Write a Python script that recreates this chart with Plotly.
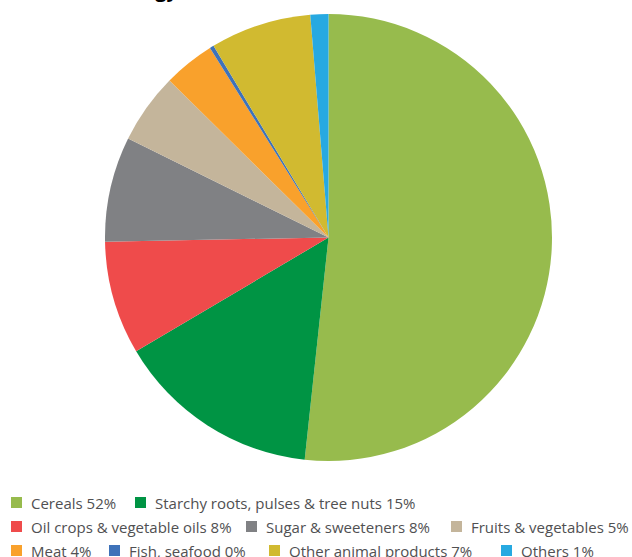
import plotly.graph_objects as go

# Share of each food group (percent)
categories = [
    "Cereals",
    "Starchy roots, pulses & tree nuts",
    "Oil crops & vegetable oils",
    "Sugar & sweeteners",
    "Fruits & vegetables",
    "Meat",
    "Fish, seafood",
    "Other animal products",
    "Others",
]
shares = [51.7, 14.8, 8.2, 7.6, 5.1, 3.7, 0.3, 7.3, 1.3]
colors = ["#97BB4D", "#009444", "#EF4B4B", "#808184", "#C4B59B",
          "#F9A12C", "#3E72B9", "#D1BA30", "#27A9E1"]

W, H = 632, 557

fig = go.Figure(
    go.Pie(
        labels=categories,
        values=shares,
        sort=False,
        direction="clockwise",
        rotation=0,
        marker=dict(colors=colors, line=dict(width=0)),
        textinfo="none",
        hovertemplate="%{label}: %{value}%<extra></extra>",
        showlegend=False,
        domain=dict(x=[105 / W, 552 / W], y=[1 - 461 / H, 1 - 14 / H]),
    )
)

# Legend laid out in three fixed rows: (row index, swatch left edge in px)
legend_slots = [(0, 11), (0, 135), (1, 11), (1, 246), (1, 451),
                (2, 11), (2, 109), (2, 269), (2, 501)]
row_centers = [502.5, 526.5, 550.5]
sw = 11

shapes = []
annotations = []
for (row, x0), name, val, col in zip(legend_slots, categories, shares, colors):
    yc = row_centers[row]
    shapes.append(dict(
        type="rect", xref="paper", yref="paper",
        x0=x0 / W, x1=(x0 + sw) / W,
        y0=1 - (yc + sw / 2) / H, y1=1 - (yc - sw / 2) / H,
        fillcolor=col, line=dict(width=0),
    ))
    annotations.append(dict(
        xref="paper", yref="paper",
        x=(x0 + sw + 7) / W, y=1 - yc / H,
        xanchor="left", yanchor="middle",
        text=f"{name} {round(val)}%", showarrow=False,
        font=dict(family="Open Sans", size=15, color="#505052"),
    ))

# Heading line sitting above the top edge
annotations.append(dict(
    xref="paper", yref="paper",
    x=186 / W, y=1 - 5 / H,
    xanchor="right", yanchor="bottom",
    text="<b>Energy,</b>", showarrow=False,
    font=dict(family="Open Sans", size=20, color="#000000"),
))

fig.update_layout(
    width=W, height=H,
    margin=dict(l=0, r=0, t=0, b=0),
    paper_bgcolor="white",
    plot_bgcolor="white",
    shapes=shapes,
    annotations=annotations,
)

fig.write_html("out.html")
